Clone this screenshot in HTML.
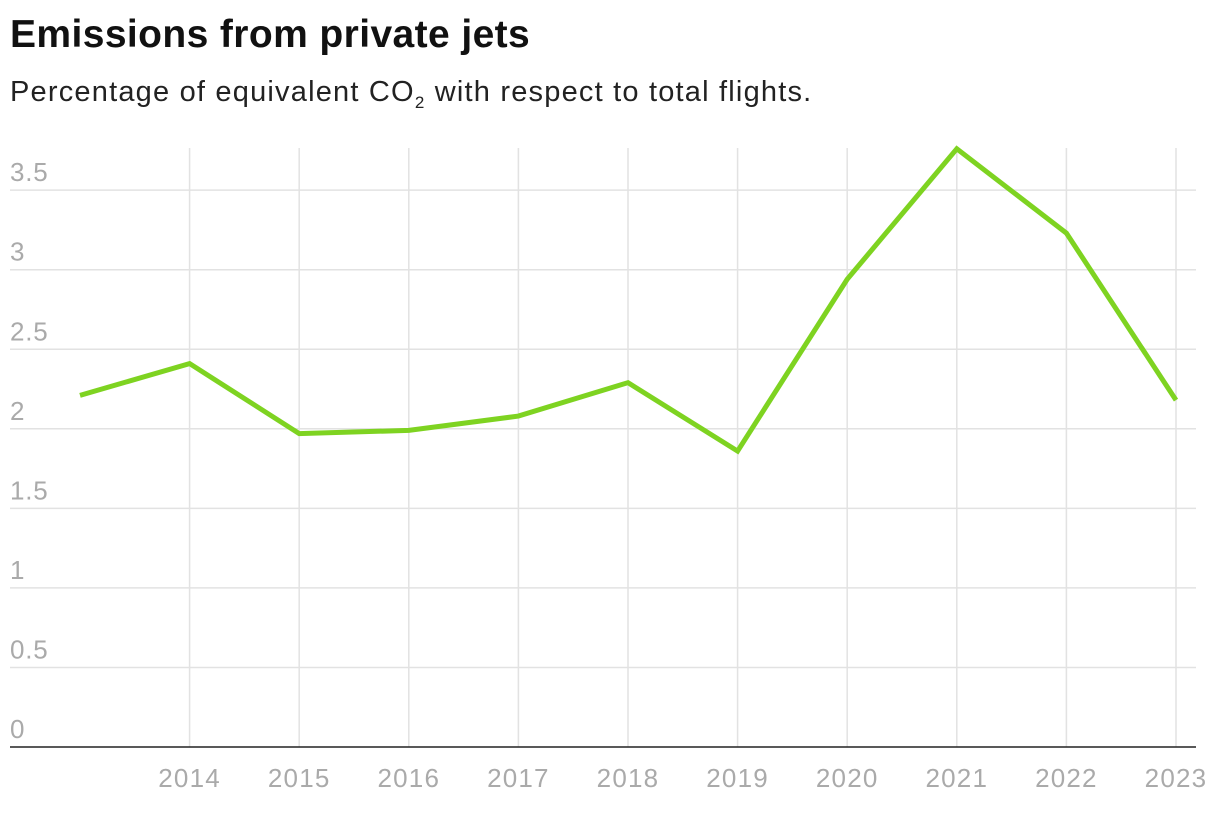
<!DOCTYPE html>
<html><head><meta charset="utf-8"><style>
body{margin:0;background:#fff;width:1220px;height:832px;overflow:hidden;font-family:"Liberation Sans",sans-serif}
#title{position:absolute;left:10px;top:13px;font-size:39px;font-weight:bold;color:#111;letter-spacing:0.4px}
#sub{position:absolute;left:10px;top:76px;font-size:29px;color:#222;letter-spacing:1.2px}
svg{position:absolute;left:0;top:0}
</style></head><body>
<div id="title">Emissions from private jets</div>
<div id="sub">Percentage of equivalent CO<sub style="font-size:17px">2</sub> with respect to total flights.</div>
<svg id="chart" width="1220" height="832"></svg>
<script>
const years=[2013,2014,2015,2016,2017,2018,2019,2020,2021,2022,2023];
const values=[2.21,2.41,1.97,1.99,2.08,2.29,1.86,2.94,3.76,3.23,2.18];
const yTicks=[0,0.5,1,1.5,2,2.5,3,3.5];
const xTicks=[2014,2015,2016,2017,2018,2019,2020,2021,2022,2023];
const NS='http://www.w3.org/2000/svg';
const svg=document.getElementById('chart');
const x=v=>80+(v-2013)*109.6;
const y=v=>747-v*159.1;
function mk(t,a){const e=document.createElementNS(NS,t);for(const k in a)e.setAttribute(k,a[k]);svg.appendChild(e);return e;}
yTicks.forEach(t=>{
 if(t>0){const l=mk('line',{x1:10,x2:1196,y1:y(t),y2:y(t),stroke:'#e2e2e2','stroke-width':1.5});
 
 }
 const tx=mk('text',{x:10,y:y(t)-9,'font-size':26,'letter-spacing':0.8,fill:'#aaa','font-family':'Liberation Sans, sans-serif'});
 tx.textContent=t;
 
 
});
xTicks.forEach(t=>{
 const l=mk('line',{x1:x(t),x2:x(t),y1:148,y2:747,stroke:'#e2e2e2','stroke-width':1.5});
 
 
 const tx=mk('text',{x:x(t),y:787,'font-size':26,'letter-spacing':1.2,fill:'#aaa','text-anchor':'middle','font-family':'Liberation Sans, sans-serif'});
 tx.textContent=t;
 
 
});
const ax=mk('line',{x1:10,x2:1196,y1:747,y2:747,stroke:'#222','stroke-width':1.5});


const p=mk('polyline',{points:years.map((v,i)=>x(v)+','+y(values[i])).join(' '),fill:'none',stroke:'#7ed321','stroke-width':5,'stroke-linejoin':'miter'});


</script>
</body></html>
